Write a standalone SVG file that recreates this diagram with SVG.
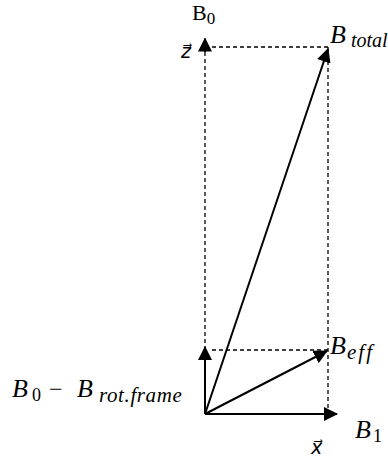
<svg xmlns="http://www.w3.org/2000/svg" width="388" height="459" viewBox="0 0 388 459">
<style>
.t{font-family:"Liberation Serif","DejaVu Serif",serif;fill:#000;}
.i{font-style:italic;}
.n{font-style:normal;}
.vec{font-family:"DejaVu Serif","DejaVu Sans",serif;font-style:italic;fill:#000;}
.sol{stroke:#000;stroke-width:2;fill:none;}
.dash{stroke:#000;stroke-width:1.3;stroke-dasharray:4,3;fill:none;}
</style>
<defs>
<marker id="ah" markerUnits="userSpaceOnUse" markerWidth="14" markerHeight="14" viewBox="0 0 14 14" refX="13" refY="7" orient="auto">
<path d="M0,0 L14,7 L0,14 Z" fill="#000"/>
</marker>
</defs>
<rect width="388" height="459" fill="#fff"/>
<g id="guides">
<line class="dash" x1="205" y1="52" x2="205" y2="347"/>
<line class="dash" x1="212" y1="47" x2="328" y2="47"/>
<line class="dash" x1="328" y1="47" x2="328" y2="412"/>
<line class="dash" x1="212" y1="350" x2="328" y2="350"/>
</g>
<g id="connectors">
<path class="sol" d="M205,52 L205,38.5" marker-end="url(#ah)"/>
<path class="sol" d="M205,414 L205,347" marker-end="url(#ah)"/>
<path class="sol" d="M205,414 L337,414" marker-end="url(#ah)"/>
<path class="sol" d="M205,414 L327,351" marker-end="url(#ah)"/>
<path class="sol" d="M205,414 L328,49" marker-end="url(#ah)"/>
</g>
<g id="labels">
<text class="t" x="192" y="20" font-size="22">B<tspan font-size="17" dy="4">0</tspan></text>
<text class="vec" x="181" y="58" font-size="19">z&#x20D7;</text>
<text class="t i" x="330" y="43" font-size="26">B<tspan x="351" y="47" font-size="20">total</tspan></text>
<text class="t i" x="330" y="354" font-size="26">B<tspan x="347" y="359" font-size="21" letter-spacing="2">eff</tspan></text>
<text class="t i" x="12" y="397" font-size="26">B<tspan class="n" x="32" y="401" font-size="18">0</tspan><tspan class="n" x="49" y="397" font-size="24">−</tspan><tspan x="77" y="397">B</tspan><tspan x="99" y="402" font-size="21" letter-spacing="0.6">rot.frame</tspan></text>
<text class="t i" x="355" y="438" font-size="26">B<tspan class="n" x="373" y="442" font-size="18">1</tspan></text>
<text class="vec" x="311" y="454" font-size="19">x&#x20D7;</text>
</g>
</svg>
